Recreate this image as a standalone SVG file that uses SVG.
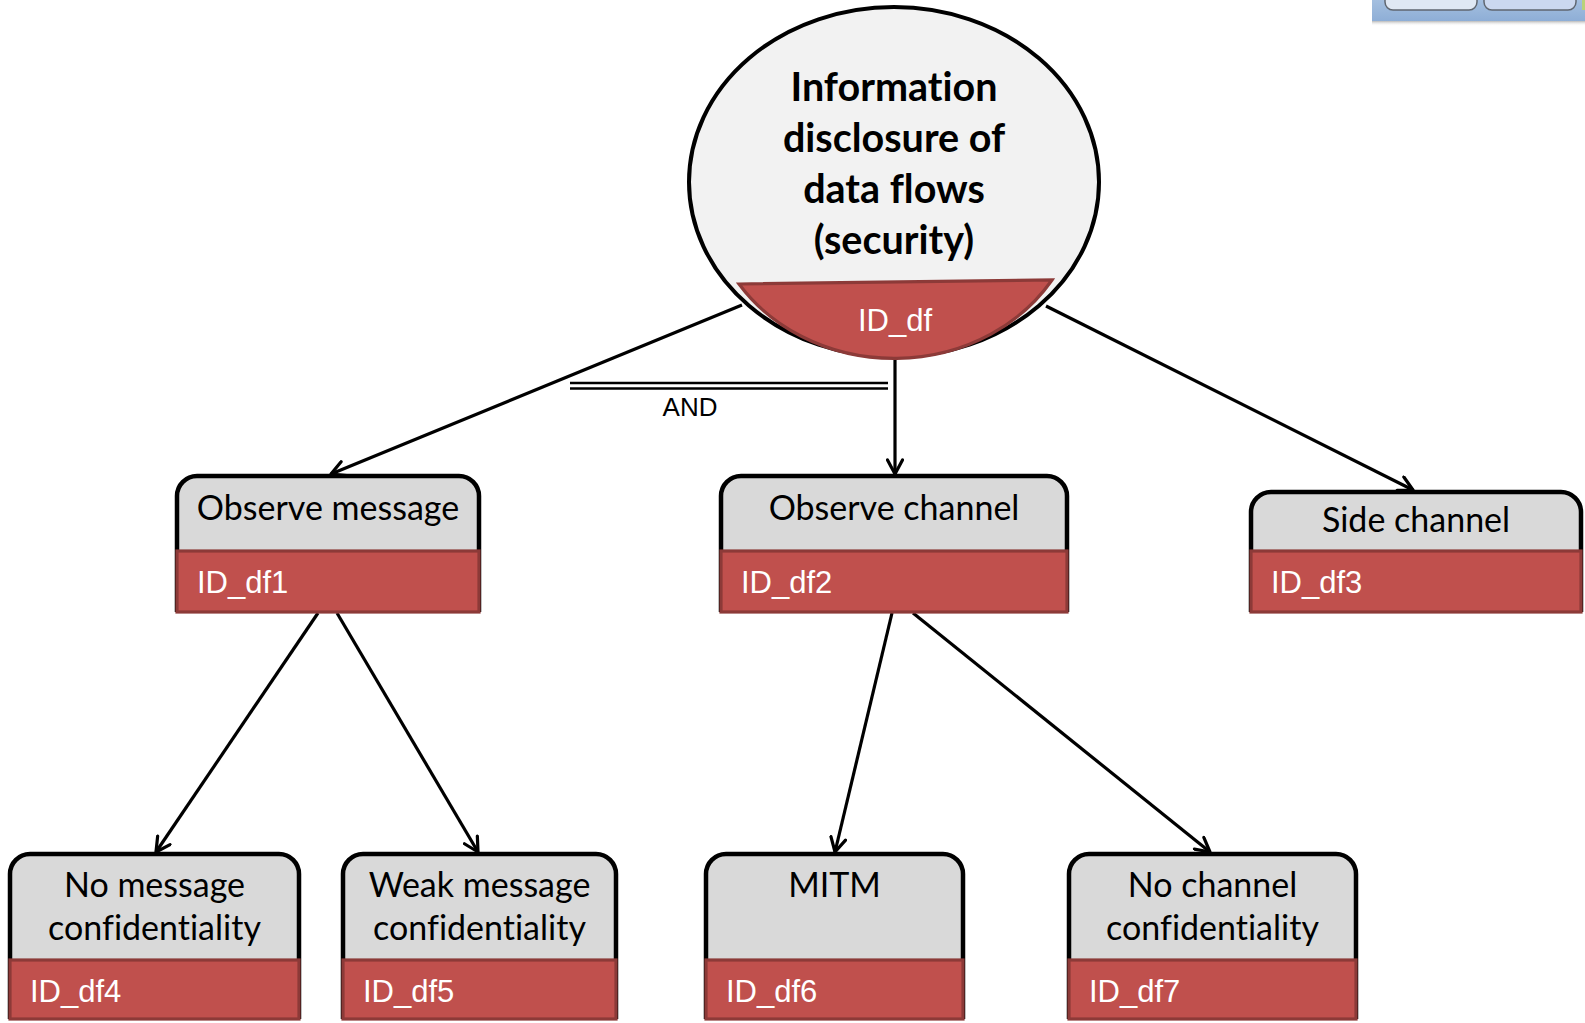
<svg xmlns="http://www.w3.org/2000/svg" width="1585" height="1023" viewBox="0 0 1585 1023">
  <defs>
    <marker id="arr" markerUnits="userSpaceOnUse" markerWidth="20" markerHeight="18" viewBox="0 0 20 18" refX="16" refY="9" orient="auto">
      <path d="M2,1.5 L16,9 L2,16.5" fill="none" stroke="#000" stroke-width="3.2" stroke-linecap="round" stroke-linejoin="round"/>
    </marker>
    <linearGradient id="barg" x1="0" y1="0" x2="0" y2="1">
      <stop offset="0" stop-color="#a9c3e2"/>
      <stop offset="1" stop-color="#8eaed6"/>
    </linearGradient>
    <linearGradient id="shad" x1="0" y1="0" x2="0" y2="1">
      <stop offset="0" stop-color="#9a9a9a" stop-opacity="0.7"/>
      <stop offset="1" stop-color="#ffffff" stop-opacity="0"/>
    </linearGradient>
  </defs>
  <style>
    text { font-variant-ligatures: none; font-feature-settings: "liga" 0, "clig" 0; }
    .box { fill: #d9d9d9; stroke: #000; stroke-width: 4.5; stroke-linejoin: round; }
    .id { fill: #c0504d; stroke: #8c3a38; stroke-width: 3.2; }
    .lbl { font-family: Lato, "Open Sans", sans-serif; font-size: 34px; fill: #000; text-anchor: middle; }
    .idt { font-family: "Liberation Sans", Arial, sans-serif; font-size: 31px; fill: #fff; }
    .ttl { font-family: Lato, "Open Sans", sans-serif; font-weight: bold; font-size: 39.5px; fill: #000; text-anchor: middle; }
    .edge { fill: none; stroke: #000; stroke-width: 3.2; }
  </style>
  <rect width="1585" height="1023" fill="#fff"/>

  <g id="toolbar-fragment">
    <rect x="1372" y="21" width="213" height="5" fill="url(#shad)"/>
    <rect x="1372" y="-5" width="213" height="26" fill="url(#barg)"/>
    <rect x="1385" y="-12" width="92" height="22" rx="8" fill="#dfe8f4" stroke="#5f6670" stroke-width="1.5"/>
    <rect x="1484" y="-12" width="92" height="22" rx="8" fill="#cbd8ef" stroke="#5f6670" stroke-width="1.5"/>
    <rect x="1582" y="0" width="3" height="10" fill="#b8d27a"/>
  </g>

  <g id="connectors">
    <line class="edge" x1="742" y1="305" x2="331" y2="474" marker-end="url(#arr)"/>
    <line class="edge" x1="895" y1="356" x2="895" y2="474" marker-end="url(#arr)"/>
    <line class="edge" x1="1046" y1="306" x2="1413" y2="490" marker-end="url(#arr)"/>
    <line x1="570" y1="383" x2="888" y2="383" stroke="#000" stroke-width="2.4"/>
    <line x1="570" y1="388.5" x2="888" y2="388.5" stroke="#000" stroke-width="2.4"/>
    <text x="690" y="416" font-family="'Liberation Sans', Arial, sans-serif" font-size="26" text-anchor="middle" fill="#000">AND</text>
    <line class="edge" x1="318" y1="613" x2="156" y2="852" marker-end="url(#arr)"/>
    <line class="edge" x1="337" y1="613" x2="478" y2="852" marker-end="url(#arr)"/>
    <line class="edge" x1="892" y1="613" x2="835" y2="852" marker-end="url(#arr)"/>
    <line class="edge" x1="913" y1="613" x2="1210" y2="852" marker-end="url(#arr)"/>
  </g>

  <g id="node-df">
    <ellipse cx="894" cy="182" rx="205" ry="175" fill="#f2f2f2" stroke="#000" stroke-width="4"/>
    <path class="id" d="M739,284 L1052,280 A186 166 0 0 1 739,284 Z"/>
    <text class="ttl" x="894" y="101">Information</text>
    <text class="ttl" x="894" y="152">disclosure of</text>
    <text class="ttl" x="894" y="203">data flows</text>
    <text class="ttl" x="894" y="254">(security)</text>
    <text class="idt" x="895" y="331" text-anchor="middle">ID_df</text>
  </g>

  <g id="node-df1">
    <path class="box" d="M177,612 V496 A20 20 0 0 1 197,476 H459 A20 20 0 0 1 479,496 V612"/>
    <rect class="id" x="177" y="551" width="302" height="61"/>
    <text class="lbl" x="328" y="520">Observe message</text>
    <text class="idt" x="197" y="593">ID_df1</text>
  </g>

  <g id="node-df2">
    <path class="box" d="M721,612 V496 A20 20 0 0 1 741,476 H1047 A20 20 0 0 1 1067,496 V612"/>
    <rect class="id" x="721" y="551" width="346" height="61"/>
    <text class="lbl" x="894" y="520">Observe channel</text>
    <text class="idt" x="741" y="593">ID_df2</text>
  </g>

  <g id="node-df3">
    <path class="box" d="M1251,612 V512 A20 20 0 0 1 1271,492 H1561 A20 20 0 0 1 1581,512 V612"/>
    <rect class="id" x="1251" y="551" width="330" height="61"/>
    <text class="lbl" x="1416" y="532">Side channel</text>
    <text class="idt" x="1271" y="593">ID_df3</text>
  </g>

  <g id="node-df4">
    <path class="box" d="M10,1019 V874 A20 20 0 0 1 30,854 H279 A20 20 0 0 1 299,874 V1019"/>
    <rect class="id" x="10" y="960" width="289" height="59"/>
    <text class="lbl" x="154.5" y="897">No message</text>
    <text class="lbl" x="154.5" y="940">confidentiality</text>
    <text class="idt" x="30" y="1002">ID_df4</text>
  </g>

  <g id="node-df5">
    <path class="box" d="M343,1019 V874 A20 20 0 0 1 363,854 H596 A20 20 0 0 1 616,874 V1019"/>
    <rect class="id" x="343" y="960" width="273" height="59"/>
    <text class="lbl" x="479.5" y="897">Weak message</text>
    <text class="lbl" x="479.5" y="940">confidentiality</text>
    <text class="idt" x="363" y="1002">ID_df5</text>
  </g>

  <g id="node-df6">
    <path class="box" d="M706,1019 V874 A20 20 0 0 1 726,854 H943 A20 20 0 0 1 963,874 V1019"/>
    <rect class="id" x="706" y="960" width="257" height="59"/>
    <text class="lbl" x="834.5" y="897">MITM</text>
    <text class="idt" x="726" y="1002">ID_df6</text>
  </g>

  <g id="node-df7">
    <path class="box" d="M1069,1019 V874 A20 20 0 0 1 1089,854 H1336 A20 20 0 0 1 1356,874 V1019"/>
    <rect class="id" x="1069" y="960" width="287" height="59"/>
    <text class="lbl" x="1212.5" y="897">No channel</text>
    <text class="lbl" x="1212.5" y="940">confidentiality</text>
    <text class="idt" x="1089" y="1002">ID_df7</text>
  </g>
</svg>
